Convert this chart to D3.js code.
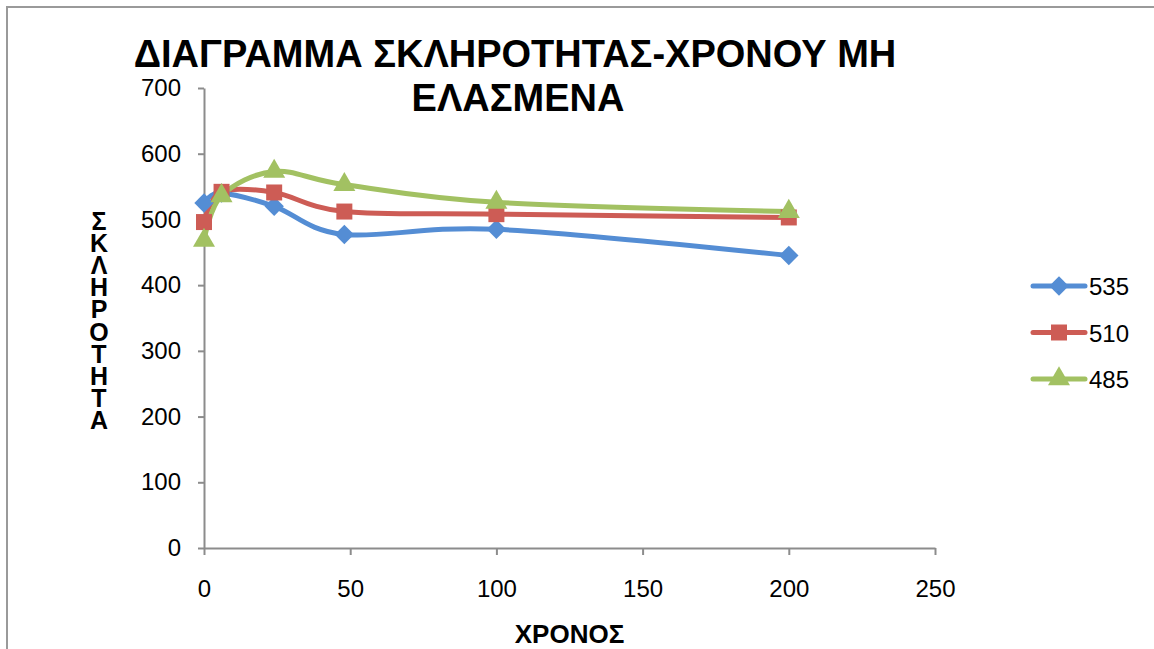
<!DOCTYPE html>
<html>
<head>
<meta charset="utf-8">
<script src="https://cdn.jsdelivr.net/npm/d3@7"></script>
<style>
  html, body { margin: 0; padding: 0; background: #fff; }
  svg { display: block; font-family: "Liberation Sans", Arial, sans-serif; }
  .ytitle { writing-mode: vertical-rl; text-orientation: upright; }
</style>
</head>
<body>
<svg id="chart" width="1154" height="649"></svg>
<script>
// Hardness measurements over time (hours) for three treatment temperatures
const hours = [0, 6, 24, 48, 100, 200];
const series535 = [525, 540, 520, 477, 485, 445];
const series510 = [496, 542, 541, 512, 508, 503];
const series485 = [468, 536, 573, 553, 526, 512];
const seriesNames = ["535", "510", "485"];
const seriesColors = ["#548DD4", "#CD5C55", "#A2C162"];
const seriesSymbols = [d3.symbolDiamond2, d3.symbolSquare, d3.symbolTriangle];
const xTicks = [0, 50, 100, 150, 200, 250];
const yTicks = [0, 100, 200, 300, 400, 500, 600, 700];
const titleLines = ["ΔΙΑΓΡΑΜΜΑ ΣΚΛΗΡΟΤΗΤΑΣ-ΧΡΟΝΟΥ ΜΗ", "ΕΛΑΣΜΕΝΑ"];
const xTitle = "ΧΡΟΝΟΣ";
const yTitle = "ΣΚΛΗΡΟΤΗΤΑ";

const allSeries = [series535, series510, series485].map((vals, i) => ({
  name: seriesNames[i],
  color: seriesColors[i],
  symbol: seriesSymbols[i],
  points: hours.map((h, j) => ({ x: h, y: vals[j] }))
}));

const svg = d3.select("#chart");
const plot = { left: 204, right: 935, top: 88, bottom: 548 };

// Outer chart frame
svg.append("path")
  .attr("d", "M7,660 L7,7 L1160,7")
  .attr("fill", "none")
  .attr("stroke", "#9a9a9a")
  .attr("stroke-width", 2);

const x = d3.scaleLinear().domain([0, 250]).range([plot.left, plot.right]);
const y = d3.scaleLinear().domain([0, 700]).range([plot.bottom, plot.top]);

const axisColor = "#8c8c8c";

// Y axis
const yAxis = svg.append("g")
  .attr("transform", `translate(${plot.left},0)`)
  .call(d3.axisLeft(y).tickValues(yTicks).tickSize(6).tickPadding(17).tickSizeOuter(0));
// X axis
const xAxis = svg.append("g")
  .attr("transform", `translate(0,${plot.bottom})`)
  .call(d3.axisBottom(x).tickValues(xTicks).tickSize(7).tickPadding(25).tickSizeOuter(0));

[xAxis, yAxis].forEach(g => {
  g.select(".domain").attr("stroke", axisColor).attr("stroke-width", 2);
  g.selectAll(".tick line").attr("stroke", axisColor).attr("stroke-width", 2);
  g.selectAll(".tick text")
    .attr("fill", "#000")
    .style("font-family", "'Liberation Sans', Arial, sans-serif")
    .style("font-size", "24px");
});

// Smoothed series lines with markers
const line = d3.line()
  .x(d => x(d.x))
  .y(d => y(d.y))
  .curve(d3.curveCardinal.tension(0));

const markerSize = t => t === d3.symbolTriangle ? 210 : t === d3.symbolSquare ? 256 : 240;

const seriesG = svg.append("g");
allSeries.forEach(s => {
  seriesG.append("path")
    .attr("d", line(s.points))
    .attr("fill", "none")
    .attr("stroke", s.color)
    .attr("stroke-width", 5)
    .attr("stroke-linejoin", "round")
    .attr("stroke-linecap", "round");
});
allSeries.forEach(s => {
  const sym = d3.symbol().type(s.symbol).size(markerSize(s.symbol));
  seriesG.append("g").selectAll("path")
    .data(s.points)
    .join("path")
    .attr("d", sym)
    .attr("transform", d => `translate(${x(d.x)},${y(d.y)})`)
    .attr("fill", s.color);
});

// Title
const title = svg.append("text")
  .attr("text-anchor", "middle")
  .attr("font-weight", "bold")
  .attr("font-size", 38)
  .attr("fill", "#000");
title.selectAll("tspan")
  .data(titleLines)
  .join("tspan")
  .attr("x", (d, i) => i === 0 ? 515 : 518)
  .attr("y", (d, i) => 67 + i * 44)
  .text(d => d);

// X axis title
svg.append("text")
  .attr("x", (plot.left + plot.right) / 2)
  .attr("y", 643)
  .attr("text-anchor", "middle")
  .attr("font-weight", "bold")
  .attr("font-size", 26)
  .text(xTitle);

// Y axis title, letters stacked upright in a vertical run
svg.append("text")
  .attr("class", "ytitle")
  .attr("x", 99)
  .attr("y", 207)
  .attr("font-weight", "bold")
  .attr("font-size", 25)
  .attr("letter-spacing", -5.9)
  .text(yTitle);

// Legend
const legend = svg.append("g");
allSeries.forEach((s, i) => {
  const ly = 286 + i * 46.5;
  legend.append("line")
    .attr("x1", 1033).attr("x2", 1085)
    .attr("y1", ly).attr("y2", ly)
    .attr("stroke", s.color)
    .attr("stroke-width", 5)
    .attr("stroke-linecap", "round");
  const sym = d3.symbol().type(s.symbol).size(markerSize(s.symbol));
  legend.append("path")
    .attr("d", sym)
    .attr("transform", `translate(1059,${ly})`)
    .attr("fill", s.color);
  legend.append("text")
    .attr("x", 1089)
    .attr("y", ly + 9)
    .attr("font-size", 24)
    .text(s.name);
});
</script>
</body>
</html>
